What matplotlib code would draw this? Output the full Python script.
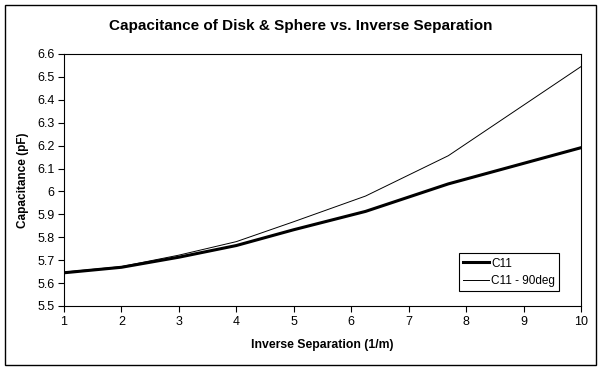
import numpy as np
import matplotlib.pyplot as plt
from matplotlib.patches import Rectangle
from matplotlib.ticker import FuncFormatter

plt.rcParams['font.family'] = ['Liberation Sans', 'DejaVu Sans']

# inverse separation (1/m)
inv_sep = [1, 2, 3, 4, 5, 6.25, 7.69, 10]
c11 = [5.645, 5.669, 5.713, 5.764, 5.833, 5.913, 6.033, 6.191]
c11_90 = [5.648, 5.672, 5.722, 5.781, 5.868, 5.980, 6.156, 6.545]

W, H = 602, 370
fig = plt.figure(figsize=(W / 100, H / 100), dpi=100)
ax = fig.add_axes([64 / W, 1 - 306 / H, (581 - 64) / W, (306 - 54) / H])

ax.plot(inv_sep, c11, color='black', linewidth=2.2, label='C11')
ax.plot(inv_sep, c11_90, color='black', linewidth=0.7, label='C11 - 90deg')

ax.set_xlim(1, 10)
ax.set_ylim(5.5, 6.6)
ax.set_xticks(range(1, 11))
ax.set_yticks(np.round(np.arange(5.5, 6.61, 0.1), 1))
ax.yaxis.set_major_formatter(FuncFormatter(lambda v, p: '%g' % round(v, 1)))
ax.tick_params(direction='out', length=4, width=0.8, labelsize=9, pad=3)
for s in ax.spines.values():
    s.set_linewidth(0.8)

ax.set_xlabel('Inverse Separation (1/m)', fontsize=8.8, fontweight='bold', labelpad=8)
ax.set_ylabel('Capacitance (pF)', fontsize=8.5, fontweight='bold', labelpad=6)
fig.text(0.5, 1 - 26 / H, 'Capacitance of Disk & Sphere vs. Inverse Separation',
         ha='center', va='center', fontsize=11, fontweight='bold')

leg = ax.legend(loc='lower right', bbox_to_anchor=(559 / W, 1 - 291 / H), bbox_transform=fig.transFigure,
                fontsize=8.5, fancybox=False, framealpha=1, edgecolor='black', borderaxespad=0,
                handlelength=2.2, borderpad=0.35, labelspacing=0.45, handletextpad=0.2)
leg.get_frame().set_linewidth(0.8)

fig.patches.append(Rectangle((5 / W, 5 / H), 591 / W, 360 / H, transform=fig.transFigure,
                             fill=False, edgecolor='black', linewidth=1))

fig.savefig('out.png', dpi=100)
